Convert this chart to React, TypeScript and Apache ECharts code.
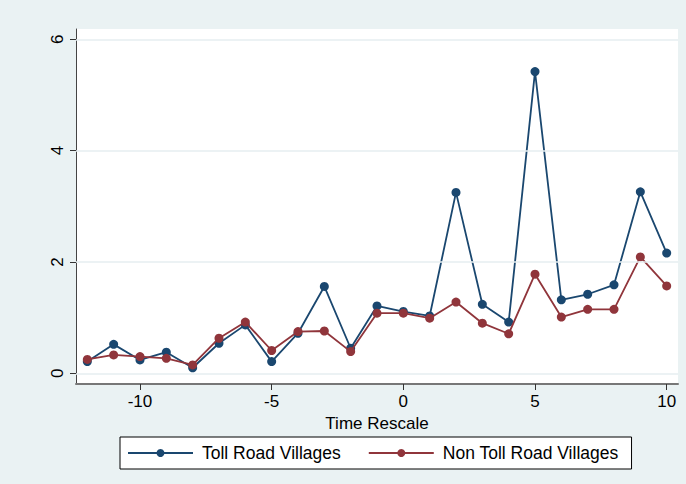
import React, { useEffect, useRef } from "react";
import * as echarts from "echarts";

const timeRescale = [-12, -11, -10, -9, -8, -7, -6, -5, -4, -3, -2, -1, 0, 1, 2, 3, 4, 5, 6, 7, 8, 9, 10];
const tollRoad = [0.21, 0.52, 0.24, 0.38, 0.10, 0.54, 0.87, 0.21, 0.72, 1.56, 0.45, 1.21, 1.11, 1.03, 3.25, 1.24, 0.92, 5.42, 1.32, 1.42, 1.59, 3.26, 2.16];
const nonTollRoad = [0.25, 0.33, 0.30, 0.27, 0.15, 0.63, 0.92, 0.41, 0.75, 0.76, 0.39, 1.08, 1.08, 0.99, 1.28, 0.90, 0.71, 1.78, 1.01, 1.15, 1.15, 2.09, 1.57];
const xTicks = [-10, -5, 0, 5, 10];
const yTicks = [0, 2, 4, 6];
const seriesNames = ["Toll Road Villages", "Non Toll Road Villages"];

const FONT = '"Liberation Sans", Arial, sans-serif';

export default function App() {
  const ref = useRef<HTMLDivElement>(null);
  useEffect(() => {
    if (!ref.current) return;
    const chart = echarts.init(ref.current, null, { renderer: "svg" });
    const pair = (ys: number[]) => timeRescale.map((x, i) => [x, ys[i]]);
    chart.setOption({
      animation: false,
      backgroundColor: "#EAF2F3",
      textStyle: { fontFamily: FONT },
      grid: {
        left: 76,
        right: 8,
        top: 29,
        bottom: 100,
        show: true,
        backgroundColor: "#FFFFFF",
        borderWidth: 0,
      },
      legend: {
        left: 120,
        top: 437,
        backgroundColor: "#FFFFFF",
        borderColor: "#000000",
        borderWidth: 1,
        borderRadius: 0,
        padding: [7, 13, 7, 7],
        itemGap: 27,
        itemWidth: 65,
        itemHeight: 10,
        textStyle: { fontSize: 17.5, color: "#000000", fontFamily: FONT, padding: [0, 0, 0, 4] },
        data: seriesNames,
      },
      xAxis: {
        type: "value",
        min: -12.43,
        max: 10.43,
        name: "Time Rescale",
        nameLocation: "middle",
        nameGap: 25,
        nameTextStyle: { fontSize: 17, color: "#000000", fontFamily: FONT },
        axisLine: { show: true, onZero: false, lineStyle: { color: "#777777", width: 2 } },
        axisTick: { show: true, length: 6, customValues: xTicks, lineStyle: { color: "#333333" } },
        axisLabel: { customValues: xTicks, margin: 9, fontSize: 17, color: "#000000", fontFamily: FONT },
        splitLine: { show: false },
      },
      yAxis: {
        type: "value",
        min: -0.192,
        max: 6.185,
        axisLine: { show: true, onZero: false, lineStyle: { color: "#444444", width: 1 } },
        axisTick: { show: true, length: 6, customValues: yTicks, lineStyle: { color: "#333333" } },
        axisLabel: { customValues: yTicks, rotate: 90, margin: 10, fontSize: 17, color: "#000000", fontFamily: FONT },
        splitLine: { show: false },
      },
      series: [
        {
          type: "line",
          name: "grid",
          data: [],
          z: 1,
          silent: true,
          markLine: {
            silent: true,
            symbol: ["none", "none"],
            label: { show: false },
            lineStyle: { color: "#E6EEF0", width: 1.5, type: "solid" },
            data: yTicks.map((v) => ({ yAxis: v })),
          },
        },
        {
          type: "line",
          name: seriesNames[0],
          data: pair(tollRoad),
          symbol: "circle",
          symbolSize: 9,
          z: 3,
          lineStyle: { color: "#1A476F", width: 1.8 },
          itemStyle: { color: "#1A476F" },
        },
        {
          type: "line",
          name: seriesNames[1],
          data: pair(nonTollRoad),
          symbol: "circle",
          symbolSize: 9,
          z: 4,
          lineStyle: { color: "#90353B", width: 1.8 },
          itemStyle: { color: "#90353B" },
        },
      ],
    });
    return () => chart.dispose();
  }, []);
  return (
    <div
      ref={ref}
      style={{ position: "fixed", left: 0, top: 0, width: 686, height: 484 }}
    />
  );
}
